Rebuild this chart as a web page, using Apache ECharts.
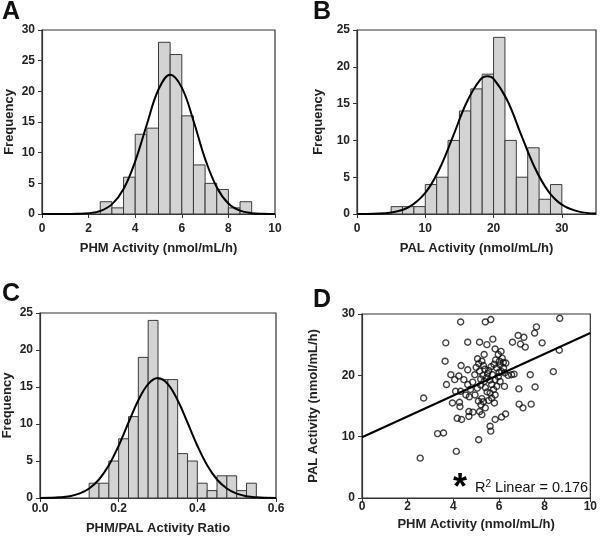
<!DOCTYPE html>
<html>
<head>
<meta charset="utf-8">
<script src="https://cdn.jsdelivr.net/npm/echarts@6/dist/echarts.min.js"></script>
<style>
  html, body { margin: 0; padding: 0; background: #fff; }
  #chart { width: 600px; height: 538px; }
</style>
</head>
<body>
<div id="chart"></div>
<script>
// histogram A: PHM activity, bins of 0.5 from 2.5
const binStartA = 2.5;
const binWidthA = 0.5;
const countsA = [2, 1, 6, 13, 14, 28, 26, 16, 8, 5, 4, 1, 2];
const curveXA = [0, 0.5, 1, 1.5, 2, 2.5, 3, 3.5, 4, 4.5, 5, 5.5, 6, 6.5, 7, 7.5, 8, 8.5, 9, 9.5, 10];
const curveYA = [0, 0, 0, 0.03, 0.12, 0.49, 1.57, 4.08, 8.59, 14.6, 20.3, 22.7, 20.6, 15.2, 9.0, 4.37, 1.71, 0.54, 0.14, 0.03, 0];

// histogram B: PAL activity, bins of 5/3 from 5
const binStartB = 5;
const binWidthB = 5 / 3;
const countsB = [1, 1, 1, 4, 5, 10, 14, 17, 19, 24, 10, 5, 9, 2, 4];
const curveXB = [0, 2.5, 5, 7.5, 10, 12, 14, 16, 18, 19.1, 20, 22, 24, 26, 28, 30, 32.5, 35];
const curveYB = [0, 0.04, 0.21, 0.89, 2.88, 5.98, 10.4, 15.05, 18.19, 18.7, 18.36, 15.46, 10.86, 6.36, 3.11, 1.27, 0.32, 0.06];

// histogram C: PHM/PAL ratio, bins of 0.025 from 0.125
const binStartC = 0.125;
const binWidthC = 0.025;
const countsC = [2, 2, 5, 8, 11, 19, 24, 16, 16, 6, 5, 2, 1, 3, 3, 1, 2];
const curveXC = [0, 0.025, 0.05, 0.075, 0.1, 0.125, 0.15, 0.175, 0.2, 0.225, 0.25, 0.275, 0.3, 0.325, 0.35, 0.375, 0.4, 0.425, 0.45, 0.475, 0.5, 0.525, 0.55, 0.575, 0.6];
const curveYC = [0.01, 0.03, 0.09, 0.24, 0.59, 1.28, 2.5, 4.42, 7.06, 10.2, 13.2, 15.4, 16.2, 15.4, 13.2, 10.2, 7.06, 4.42, 2.5, 1.28, 0.59, 0.24, 0.09, 0.03, 0.01];

// scatter D: PHM vs PAL
const phm = [4.32, 5.40, 5.64, 8.66, 7.64, 7.56, 6.84, 7.09, 3.67, 4.63, 5.15, 5.47, 5.73, 6.59, 6.94, 7.15, 7.89, 8.64,
  5.83, 6.09, 5.35, 5.97, 6.14, 6.19, 6.30, 3.64, 5.06, 5.25, 5.11, 5.32, 4.34, 6.05, 5.90,
  4.63, 4.94, 3.89, 4.06, 4.24, 4.46, 3.70, 4.10, 4.32, 4.63, 4.75, 2.70,
  6.55, 6.66, 7.37, 8.38, 6.24, 6.87, 7.58,
  5.71, 5.83, 5.97, 6.05, 5.68, 5.90, 5.76, 5.61, 5.83, 5.68, 5.80, 6.88, 7.41,
  3.96, 4.27, 4.29, 4.68, 4.86, 5.15, 5.25, 4.17, 4.36, 4.68, 5.32, 5.21, 5.40,
  3.31, 3.57, 5.11, 5.61, 5.64, 4.13, 2.55,
  5.83, 6.11, 6.29, 7.05,
  4.70, 4.95, 5.05, 5.20, 5.35, 5.45, 5.50, 5.55, 5.30, 5.20, 5.40, 5.48, 5.25, 5.10, 5.60,
  5.65, 5.85, 6.00, 6.12, 6.20, 6.25, 5.15, 5.00, 5.38, 5.78, 4.85, 4.55, 6.40, 6.02, 5.55];
const pal = [28.7, 28.7, 29.1, 29.3, 27.9, 26.9, 26.5, 26.2, 25.3, 25.4, 25.4, 25.0, 25.9, 25.4, 25.1, 24.6, 25.3, 24.1,
  24.3, 23.9, 23.4, 23.4, 22.8, 22.1, 22.0, 22.3, 22.7, 22.3, 21.9, 21.6, 21.6, 21.7, 21.2,
  20.9, 20.1, 20.1, 19.3, 19.9, 19.3, 18.5, 17.4, 17.4, 18.5, 17.7, 16.3,
  20.1, 20.2, 20.1, 20.6, 18.2, 17.8, 18.1,
  20.1, 19.3, 19.8, 19.0, 18.5, 18.2, 17.7, 17.1, 16.8, 16.3, 15.5, 15.3, 15.3,
  15.5, 15.6, 14.9, 14.1, 14.0, 14.1, 13.6, 13.0, 12.8, 13.3, 15.7, 15.2, 14.7,
  10.5, 10.6, 9.5, 11.7, 10.9, 7.6, 6.5,
  12.8, 13.2, 13.7, 14.7,
  16.5, 16.8, 17.9, 18.4, 19.0, 19.6, 20.3, 20.8, 20.0, 19.4, 18.0, 17.3, 16.2, 15.8, 19.2,
  21.4, 22.5, 20.5, 20.6, 21.2, 20.4, 20.7, 21.3, 21.0, 21.8, 18.9, 16.8, 20.0, 22.3, 15.9];
const fitX = [0, 10];
const fitY = [9.9, 26.9];
const r2Text = '0.176';

const FONT = 'Liberation Sans, Arial, sans-serif';
const INK = '#222';

function bins(start, width, counts) {
  return counts.map((c, i) => [start + i * width, start + (i + 1) * width, c]);
}

function histSeries(idx, data) {
  return {
    type: 'custom',
    xAxisIndex: idx,
    yAxisIndex: idx,
    encode: { x: [0, 1], y: 2 },
    data: data,
    renderItem: function (params, api) {
      const p0 = api.coord([api.value(0), api.value(2)]);
      const p1 = api.coord([api.value(1), 0]);
      return {
        type: 'rect',
        shape: { x: p0[0], y: p0[1], width: p1[0] - p0[0], height: p1[1] - p0[1] },
        style: { fill: '#d3d3d3', stroke: '#3a3a3a', lineWidth: 1 }
      };
    },
    z: 2
  };
}

function curveSeries(idx, xs, ys) {
  return {
    type: 'line',
    xAxisIndex: idx,
    yAxisIndex: idx,
    data: xs.map((x, i) => [x, ys[i]]),
    smooth: 0.4,
    showSymbol: false,
    lineStyle: { color: '#000', width: 2 },
    z: 3
  };
}

function labelStyle(margin, extra) {
  return Object.assign({ fontFamily: FONT, fontWeight: 'bold', fontSize: 12, color: INK, margin: margin }, extra || {});
}

function axis(gridIndex, min, max, interval, name, nameGap, label) {
  return {
    type: 'value',
    gridIndex: gridIndex,
    min: min,
    max: max,
    interval: interval,
    name: name,
    nameLocation: 'middle',
    nameGap: nameGap,
    nameTextStyle: { fontFamily: FONT, fontWeight: 'bold', fontSize: 13, color: INK },
    axisLine: { show: true, lineStyle: { color: '#333', width: 1.2 } },
    axisTick: { show: true, inside: false, length: 4, lineStyle: { color: '#333', width: 1 } },
    axisLabel: label,
    splitLine: { show: false }
  };
}

const gridStyle = { show: true, borderColor: '#333', borderWidth: 1.2, backgroundColor: 'transparent' };

const letter = (t, left, top) => ({
  text: t, left: left, top: top, padding: 0,
  textStyle: { fontFamily: FONT, fontWeight: 'bold', fontSize: 25, color: '#111' }
});

const option = {
  animation: false,
  title: [letter('A', 2, 0), letter('B', 313, 0), letter('C', 2, 282), letter('D', 313, 288)],
  grid: [
    Object.assign({ left: 42, top: 30, width: 233, height: 184 }, gridStyle),
    Object.assign({ left: 357, top: 30, width: 239, height: 184 }, gridStyle),
    Object.assign({ left: 40, top: 313, width: 236, height: 185 }, gridStyle),
    Object.assign({ left: 362, top: 314, width: 231, height: 184 }, gridStyle)
  ],
  xAxis: [
    axis(0, 0, 10, 2, 'PHM Activity (nmol/mL/h)', 28, labelStyle(9)),
    axis(1, 0, 35, 10, 'PAL Activity (nmol/mL/h)', 28, labelStyle(9, { showMaxLabel: false })),
    axis(2, 0, 0.6, 0.2, 'PHM/PAL Activity Ratio', 24, labelStyle(5, { formatter: v => v.toFixed(1) })),
    axis(3, 0, 10, 2, 'PHM Activity (nmol/mL/h)', 20, labelStyle(3))
  ],
  yAxis: [
    axis(0, 0, 30, 5, 'Frequency', 26, labelStyle(7)),
    axis(1, 0, 25, 5, 'Frequency', 32, labelStyle(7)),
    axis(2, 0, 25, 5, 'Frequency', 26, labelStyle(7)),
    axis(3, 0, 30, 10, 'PAL Activity (nmol/mL/h)', 42, labelStyle(7))
  ],
  series: [
    histSeries(0, bins(binStartA, binWidthA, countsA)),
    curveSeries(0, curveXA, curveYA),
    histSeries(1, bins(binStartB, binWidthB, countsB)),
    curveSeries(1, curveXB, curveYB),
    histSeries(2, bins(binStartC, binWidthC, countsC)),
    curveSeries(2, curveXC, curveYC),
    {
      type: 'scatter',
      xAxisIndex: 3,
      yAxisIndex: 3,
      data: phm.map((x, i) => [x, pal[i]]),
      symbol: 'circle',
      symbolSize: 6,
      itemStyle: { color: 'rgba(0,0,0,0)', borderColor: '#111', borderWidth: 1.4 },
      z: 3
    },
    {
      type: 'line',
      xAxisIndex: 3,
      yAxisIndex: 3,
      data: fitX.map((x, i) => [x, fitY[i]]),
      showSymbol: false,
      lineStyle: { color: '#000', width: 2 },
      z: 4
    }
  ],
  graphic: [
    {
      type: 'text', left: 453, top: 471,
      style: { text: '*', fontFamily: FONT, fontWeight: 'bold', fontSize: 36, fill: '#000' }
    },
    {
      type: 'text', left: 475, top: 479,
      style: {
        text: '{r|R}{s|2}{r| Linear = ' + r2Text + '}',
        rich: {
          r: { fontFamily: FONT, fontSize: 14.5, fill: '#111', verticalAlign: 'bottom' },
          s: { fontFamily: FONT, fontSize: 10, fill: '#111', verticalAlign: 'top', padding: [0, 0, 6, 0] }
        }
      }
    }
  ]
};

const chart = echarts.init(document.getElementById('chart'));
chart.setOption(option);
</script>
</body>
</html>
